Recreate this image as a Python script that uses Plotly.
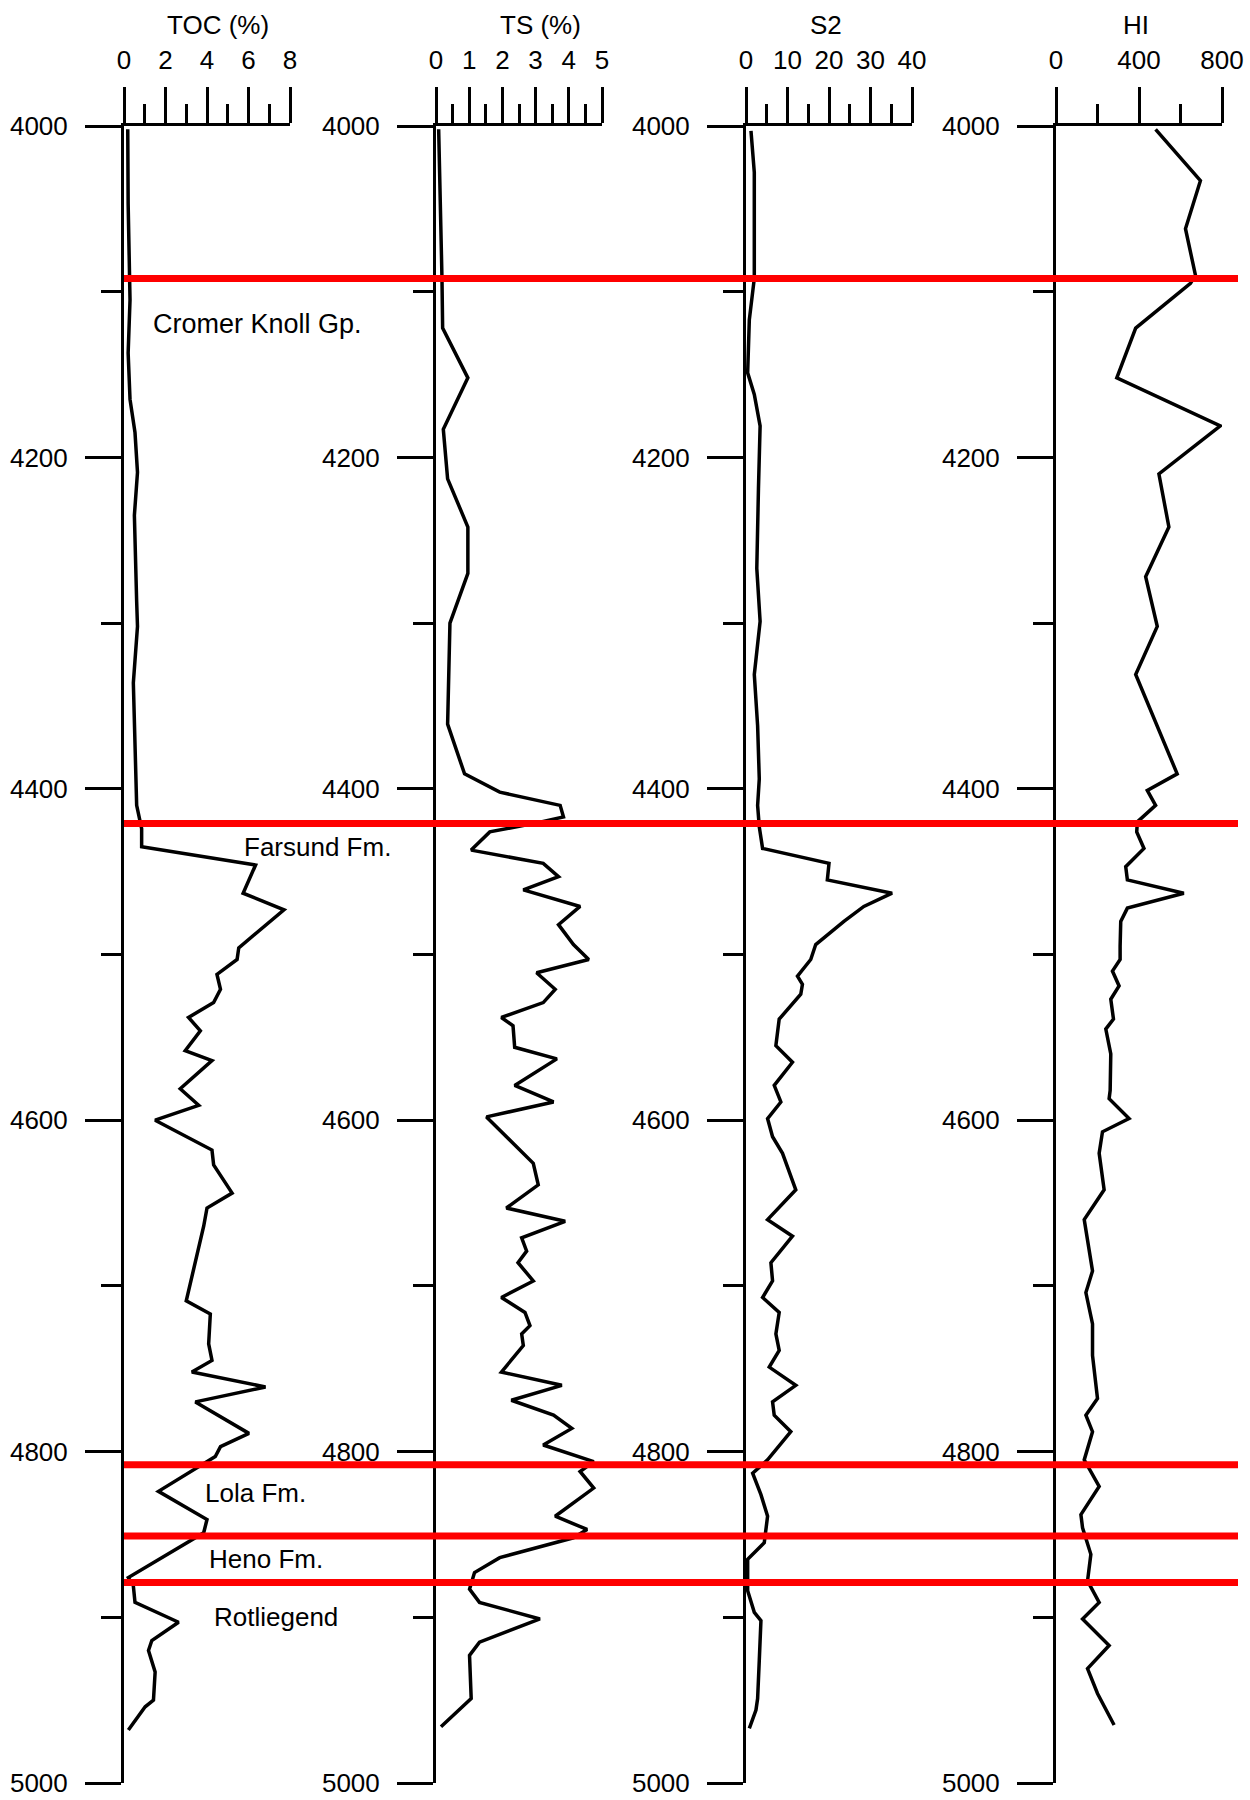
import plotly.graph_objects as go

# Geochemical depth log: TOC, total sulphur, S2 and hydrogen index vs depth (m)
toc_depth = [4002, 4047, 4105, 4137, 4165, 4185, 4209, 4235, 4287, 4302, 4336, 4376, 4410,
             4424, 4435, 4446, 4463, 4473, 4496, 4503, 4512, 4521, 4529, 4538, 4546, 4558,
             4564, 4581, 4591, 4600, 4618, 4627, 4644, 4653, 4664, 4709, 4717, 4735, 4745,
             4752, 4761, 4770, 4789, 4797, 4803, 4824, 4841, 4849, 4876, 4881, 4891, 4903,
             4914, 4920, 4933, 4950, 4954, 4968]
toc_vals = [0.18, 0.20, 0.29, 0.20, 0.29, 0.53, 0.65, 0.50, 0.61, 0.65, 0.45, 0.53, 0.61,
            0.85, 0.85, 6.34, 5.74, 7.71, 5.53, 5.45, 4.48, 4.65, 4.32, 3.11, 3.68, 2.95,
            4.24, 2.71, 3.60, 1.50, 4.24, 4.32, 5.21, 4.00, 3.84, 3.00, 4.16, 4.08, 4.24,
            3.27, 6.82, 3.44, 6.02, 4.65, 4.40, 1.66, 4.00, 3.84, 0.21, 0.45, 0.53, 2.63,
            1.34, 1.18, 1.50, 1.42, 1.02, 0.21]

ts_depth = [4002, 4018, 4047, 4092, 4122, 4152, 4183, 4200, 4213, 4242, 4270, 4300, 4340,
            4361, 4391, 4402, 4410, 4417, 4421, 4426, 4437, 4445, 4453, 4461, 4471, 4482,
            4494, 4503, 4511, 4521, 4529, 4538, 4543, 4556, 4563, 4579, 4589, 4598, 4626,
            4639, 4653, 4661, 4671, 4679, 4686, 4697, 4707, 4716, 4724, 4729, 4736, 4752,
            4760, 4769, 4778, 4786, 4796, 4806, 4812, 4822, 4839, 4847, 4852, 4864, 4873,
            4883, 4891, 4901, 4915, 4923, 4949, 4966]
ts_vals = [0.08, 0.10, 0.15, 0.18, 0.20, 0.96, 0.22, 0.28, 0.35, 0.96, 0.96, 0.42, 0.38,
           0.35, 0.86, 1.92, 3.74, 3.84, 2.93, 1.62, 1.06, 3.23, 3.69, 2.63, 4.34, 3.69,
           4.14, 4.60, 3.03, 3.59, 3.23, 1.97, 2.32, 2.37, 3.64, 2.37, 3.54, 1.52, 2.93,
           3.08, 2.12, 3.89, 2.58, 2.73, 2.47, 2.93, 1.97, 2.68, 2.83, 2.58, 2.63, 1.97,
           3.79, 2.27, 3.54, 4.09, 3.23, 4.75, 4.34, 4.75, 3.59, 4.55, 4.14, 1.92, 1.16,
           1.01, 1.31, 3.13, 1.31, 1.01, 1.06, 0.15]

s2_depth = [4003, 4028, 4060, 4092, 4117, 4149, 4162, 4181, 4219, 4267, 4299, 4331, 4362,
            4394, 4410, 4423, 4436, 4445, 4455, 4463, 4471, 4480, 4494, 4503, 4513, 4518,
            4524, 4539, 4555, 4565, 4579, 4589, 4599, 4610, 4620, 4642, 4660, 4670, 4686,
            4697, 4707, 4716, 4729, 4739, 4749, 4760, 4770, 4778, 4788, 4805, 4813, 4826,
            4839, 4855, 4865, 4884, 4897, 4902, 4926, 4949, 4956, 4967]
s2_vals = [1.2, 2.0, 2.0, 2.0, 0.8, 0.4, 2.0, 3.4, 3.0, 2.6, 3.4, 2.0, 2.8,
           3.2, 2.8, 3.2, 4.0, 20.0, 19.6, 35.2, 28.4, 23.6, 16.8, 15.6, 12.4, 13.6,
           13.2, 8.0, 7.2, 11.2, 6.8, 8.4, 5.2, 6.4, 8.8, 12.0, 5.2, 11.2, 6.0,
           6.4, 4.0, 8.0, 7.2, 8.0, 5.6, 12.0, 6.4, 6.8, 10.8, 5.2, 1.6, 3.6,
           5.2, 4.4, 0.4, 0.4, 2.0, 3.6, 3.2, 2.8, 2.4, 0.8]

hi_depth = [4002, 4033, 4062, 4090, 4095, 4122, 4152, 4181, 4210, 4242, 4272, 4302, 4331,
            4391, 4401, 4410, 4420, 4426, 4436, 4447, 4455, 4463, 4472, 4480, 4495, 4503,
            4510, 4519, 4527, 4539, 4545, 4560, 4582, 4587, 4599, 4607, 4620, 4642, 4660,
            4691, 4704, 4723, 4742, 4768, 4778, 4788, 4805, 4821, 4838, 4846, 4862, 4878,
            4891, 4901, 4917, 4931, 4946, 4965]
hi_vals = [480, 696, 624, 672, 648, 384, 293, 792, 496, 544, 432, 488, 384,
           584, 440, 480, 392, 389, 424, 336, 344, 616, 344, 312, 309, 309,
           272, 304, 264, 277, 240, 264, 261, 256, 352, 224, 208, 232, 136,
           176, 144, 176, 176, 200, 144, 176, 136, 208, 120, 128, 168, 152,
           208, 128, 256, 152, 200, 280]

# Column headers and x-axis scales
track_titles = ["TOC (%)", "TS (%)", "S2", "HI"]
track_max = [8, 5, 40, 800]
track_major = [2, 1, 10, 400]
track_minor = [1, 0.5, 5, 200]

# Formation tops (m) and unit names
tops = [4092, 4421, 4808, 4851, 4879]
unit_names = ["Cromer Knoll Gp.", "Farsund Fm.", "Lola Fm.", "Heno Fm.", "Rotliegend"]

depth_range = [5000, 4000]

W, H = 1250, 1800
FONT = "Liberation Sans, Arial, sans-serif"


def px_x(p):
    return p / W


def px_y(p):
    return 1 - p / H


track_left = [124, 436, 746, 1056]
track_width = 166
y_dom = [px_y(1783), px_y(126)]

series = [(toc_depth, toc_vals), (ts_depth, ts_vals), (s2_depth, s2_vals), (hi_depth, hi_vals)]

fig = go.Figure()
layout = {}
for i, ((d, v), left) in enumerate(zip(series, track_left)):
    n = "" if i == 0 else str(i + 1)
    fig.add_trace(go.Scatter(x=v, y=d, mode="lines", xaxis="x" + n, yaxis="y" + n,
                             line=dict(color="black", width=3.5), showlegend=False,
                             hoverinfo="skip"))
    layout["xaxis" + n] = dict(
        domain=[px_x(left), px_x(left + track_width)], anchor="y" + n, side="top",
        range=[0, track_max[i]], tick0=0, dtick=track_major[i],
        showline=True, linecolor="black", linewidth=3,
        ticks="outside", ticklen=36, tickwidth=3, tickcolor="black",
        minor=dict(dtick=track_minor[i], tick0=0, ticks="outside", ticklen=19,
                   tickwidth=3, tickcolor="black"),
        showgrid=False, zeroline=False, automargin=False,
        tickfont=dict(family=FONT, size=26, color="black"), ticklabelstandoff=8,
    )
    layout["yaxis" + n] = dict(
        domain=y_dom, anchor="x" + n, range=depth_range, tick0=4000, dtick=200,
        showline=True, linecolor="black", linewidth=3,
        ticks="outside", ticklen=36, tickwidth=3, tickcolor="black",
        minor=dict(dtick=100, tick0=4000, ticks="outside", ticklen=20,
                   tickwidth=3, tickcolor="black"),
        showgrid=False, zeroline=False, automargin=False,
        tickfont=dict(family=FONT, size=26, color="black"), ticklabelstandoff=12,
    )

title_x = [218, 540, 826, 1136]
annotations = []
for t, xc in zip(track_titles, title_x):
    annotations.append(dict(text=t, x=px_x(xc), y=px_y(25), xref="paper", yref="paper",
                            xanchor="center", yanchor="middle", showarrow=False,
                            font=dict(family=FONT, size=26, color="black")))

label_pos = [(151, 324, 27), (242, 847, 26), (203, 1493, 26), (207, 1559, 26), (212, 1617, 26)]
for name, (lx, ly, fs) in zip(unit_names, label_pos):
    annotations.append(dict(text=name, x=px_x(lx), y=px_y(ly), xref="paper", yref="paper",
                            xanchor="left", yanchor="middle", showarrow=False,
                            font=dict(family=FONT, size=fs, color="black")))

shapes = [dict(type="line", xref="paper", yref="y", x0=px_x(124), x1=px_x(1238),
               y0=d, y1=d, line=dict(color="#ff0000", width=7), layer="above")
          for d in tops]

fig.update_layout(width=W, height=H, margin=dict(l=0, r=0, t=0, b=0),
                  paper_bgcolor="white", plot_bgcolor="white",
                  annotations=annotations, shapes=shapes, **layout)

fig.write_html("out.html")
